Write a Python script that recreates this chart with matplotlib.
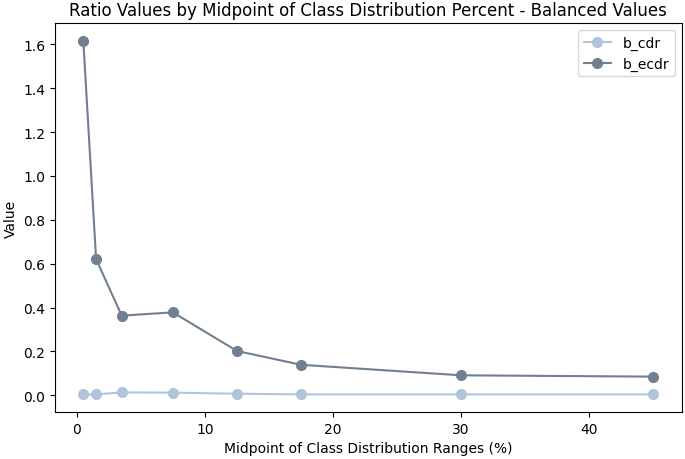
import numpy as np
import matplotlib.pyplot as plt

# midpoints of class distribution ranges (%)
midpoints = [0.5, 1.5, 3.5, 7.5, 12.5, 17.5, 30, 45]
b_cdr = [0.004, 0.004, 0.013, 0.012, 0.007, 0.004, 0.004, 0.004]
b_ecdr = [1.617, 0.621, 0.363, 0.378, 0.202, 0.139, 0.091, 0.085]

fig, ax = plt.subplots(figsize=(6.85, 4.6), dpi=100)
ax.plot(midpoints, b_cdr, marker='o', markersize=7, color='#b0c4de', label='b_cdr')
ax.plot(midpoints, b_ecdr, marker='o', markersize=7, color='#708090', label='b_ecdr')
ax.set_title('Ratio Values by Midpoint of Class Distribution Percent - Balanced Values')
ax.set_xlabel('Midpoint of Class Distribution Ranges (%)')
ax.set_ylabel('Value')
ax.legend()
fig.subplots_adjust(left=0.080, right=0.995, top=0.948, bottom=0.102)
fig.savefig('out.png')
